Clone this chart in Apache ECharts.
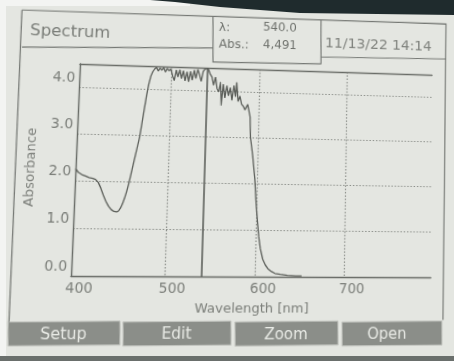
<!DOCTYPE html>
<html><head><meta charset="utf-8">
<script src="https://cdn.jsdelivr.net/npm/echarts@6/dist/echarts.min.js"></script>
<style>
html,body{margin:0;padding:0;background:#e6e8e3;overflow:hidden}
#wrap{position:absolute;left:0;top:0;width:454px;height:361px;overflow:hidden;background:#e6e8e3}
#c{width:534px;height:441px;position:absolute;left:-40px;top:-40px}
.deco{position:absolute;pointer-events:none}
</style></head><body>
<div id="wrap">
<div id="c"></div>
<div class="deco" style="left:0;top:0;width:6px;height:361px;background:#f3f4f2"></div>
<div class="deco" style="left:0;top:0;width:190px;height:6px;background:#f3f4f2"></div>
<div class="deco" style="left:0;top:0;width:454px;height:18px;background:#1f2b2d;clip-path:polygon(150px 0,454px 0,454px 15px,300px 13px,220px 7px,175px 2px)"></div>
<div class="deco" style="left:0;top:356px;width:454px;height:5px;background:#6a6f6c"></div>
</div>
<script>
// ---- data ----
const wavelengths = [
  400,403,407,411,415,419,422,425,428,431,
  434,437,440,443,446,448,450,452,454,456,
  458,460,462,464,466,468,470,472,474,476,
  478,480,482,484,486,488,490,492,494,496,
  498,500,502,504,506,508,510,512,514,516,
  518,520,522,524,526,528,530,532,534,536,
  538,540,542,544,546,548,550,552,554,556,
  557,559,561,563,565,567,569,571,573,574,
  576,578,580,582,584,587,590,591,594,597,
  599,601,603,605,608,611,614,618,622,628,
  636,645,652];
const absorbance = [
  2.25,2.18,2.13,2.10,2.07,2.05,2.03,1.97,1.85,1.70,
  1.57,1.47,1.40,1.36,1.35,1.37,1.43,1.52,1.64,1.78,
  1.95,2.15,2.35,2.55,2.75,2.95,3.25,3.55,3.85,4.10,
  4.28,4.38,4.44,4.47,4.40,4.46,4.42,4.47,4.38,4.46,
  4.41,4.45,4.30,4.20,4.43,4.28,4.44,4.25,4.42,4.20,
  4.40,4.18,4.41,4.22,4.44,4.26,4.46,4.34,4.20,4.42,
  4.47,4.49,4.46,4.36,4.30,4.12,4.30,4.05,3.98,4.20,
  3.68,4.15,3.85,4.12,3.90,4.08,3.80,4.13,3.88,4.20,
  3.78,3.90,3.72,3.68,3.60,3.72,3.45,3.00,2.60,2.10,
  1.60,1.20,0.85,0.60,0.37,0.25,0.17,0.11,0.07,0.05,
  0.03,0.02,0.02];
const xTickLabels = [400, 500, 600, 700];
const yTickLabels = [0, 1, 2, 3, 4];
const cursorWavelength = 540.0;
const cursorAbs = 4.491;
const titleText = 'Spectrum';
const timestamp = '11/13/22 14:14';
const buttons = ['Setup', 'Edit', 'Zoom', 'Open'];

// ---- photo perspective (homography) ----
function solve(A, b) {
  const n = b.length, M = A.map((r, i) => r.concat([b[i]]));
  for (let c = 0; c < n; c++) {
    let p = c;
    for (let r = c + 1; r < n; r++) if (Math.abs(M[r][c]) > Math.abs(M[p][c])) p = r;
    [M[c], M[p]] = [M[p], M[c]];
    for (let r = 0; r < n; r++) if (r !== c) {
      const f = M[r][c] / M[c][c];
      for (let k = c; k <= n; k++) M[r][k] -= f * M[c][k];
    }
  }
  return M.map((r, i) => r[n] / r[i]);
}
function homography(src, dst) {
  const A = [], b = [];
  for (let i = 0; i < 4; i++) {
    const [x, y] = src[i], [u, v] = dst[i];
    A.push([x, y, 1, 0, 0, 0, -x * u, -y * u]); b.push(u);
    A.push([0, 0, 0, x, y, 1, -x * v, -y * v]); b.push(v);
  }
  const h = solve(A, b);
  return [[h[0], h[1], h[2]], [h[3], h[4], h[5]], [h[6], h[7], 1]];
}
function inv3(m) {
  const [a, b, c] = m[0], [d, e, f] = m[1], [g, h, i] = m[2];
  const A = e*i - f*h, B = -(d*i - f*g), C = d*h - e*g;
  const D = -(b*i - c*h), E = a*i - c*g, F = -(a*h - b*g);
  const G = b*f - c*e, H = -(a*f - c*d), I = a*e - b*d;
  const det = a*A + b*B + c*C;
  return [[A/det, D/det, G/det], [B/det, E/det, H/det], [C/det, F/det, I/det]];
}
function apply(m, x, y) {
  const w = m[2][0]*x + m[2][1]*y + m[2][2];
  return [(m[0][0]*x + m[0][1]*y + m[0][2]) / w, (m[1][0]*x + m[1][1]*y + m[1][2]) / w];
}
const OFF = 40;
const GL = 76, GR = 431, GT = 69, GB = 276;
const X_MIN = 400, X_MAX = 800, Y_MAX = 4.5;
const ix = v => GL + (v - X_MIN) / (X_MAX - X_MIN) * (GR - GL);
const iy = a => GB - a / Y_MAX * (GB - GT);
const Hm = homography(
  [[ix(400), iy(4)], [ix(700), iy(4)], [ix(400), iy(0)], [ix(700), iy(0)]],
  [[79, 87], [346.7, 94.5], [71, 276], [344, 277]]);
const Hi = inv3(Hm);
const P = (x, y) => { const q = apply(Hi, x, y); return [q[0] + OFF, q[1] + OFF]; };
const el = document.getElementById('c');
el.style.transformOrigin = OFF + 'px ' + OFF + 'px';
el.style.transform = 'matrix3d(' + [Hm[0][0], Hm[1][0], 0, Hm[2][0], Hm[0][1], Hm[1][1], 0, Hm[2][1], 0, 0, 1, 0, Hm[0][2], Hm[1][2], 0, Hm[2][2]].join(',') + ')';

// ---- decorations of the instrument screen ----
const FONT = '"DejaVu Sans", Verdana, sans-serif';
const LINE = '#767975';
const TXT = '#7b7e79';
const graphic = [];
function line(pts, w, col) {
  graphic.push({type: 'polyline', z: 10, silent: true, shape: {points: pts.map(p => P(p[0], p[1]))},
    style: {stroke: col || LINE, lineWidth: w || 1.2, fill: null}});
}
function text(str, x, y, size, col, align, rot) {
  const [px, py] = P(x, y);
  graphic.push({type: 'text', z: 11, silent: true, x: px, y: py, rotation: rot || 0,
    style: {text: str, x: 0, y: 0, font: size + 'px ' + FONT, fill: col || TXT,
      textAlign: align || 'left', textVerticalAlign: 'middle'}});
}
line([[22, 10], [446, 24], [443, 320]]);
line([[22, 10], [9, 322]]);
line([[22, 47], [213, 48]]);
line([[213, 16], [213, 62], [321, 64]]);
line([[321, 20], [321, 64]]);
line([[321, 57], [446, 59]]);
text(titleText, 30, 30, 16, '#7a7d78');
text('λ:', 219, 27, 12, '#6e716c');
text(cursorWavelength.toFixed(1), 263, 27, 12, '#6e716c');
text('Abs.:', 219, 44, 12, '#6e716c');
text(cursorAbs.toFixed(3).replace('.', ','), 263, 44, 12, '#6e716c');
text(timestamp, 325, 43, 14.5, '#80837e');
text('Wavelength [nm]', 252, 308, 13, TXT, 'center');
text('Absorbance', 30, 167, 13, TXT, 'center', Math.PI / 2);
const btnBoxes = [[8, 120], [123, 231], [235, 338], [342, 442]];
const btnText = [63.5, 176.5, 286, 387];
buttons.forEach((b, i) => {
  const [x0, x1] = btnBoxes[i];
  graphic.push({type: 'polygon', z: 9, silent: true,
    shape: {points: [P(x0, 322), P(x1, 321), P(x1, 345), P(x0, 346)]},
    style: {fill: '#8b8e89', stroke: '#c3c5c0', lineWidth: 1}});
  text(b, btnText[i], 334, 15, '#e8eae5', 'center');
});

// ---- chart ----
const chart = echarts.init(el, null, {renderer: 'svg', width: 454 + 2 * OFF, height: 361 + 2 * OFF});
chart.setOption({
  animation: false,
  backgroundColor: '#e4e6e1',
  grid: {left: GL + OFF, right: 454 - GR + OFF, top: GT + OFF, bottom: 361 - GB + OFF},
  xAxis: [{
    type: 'value', min: X_MIN, max: X_MAX, interval: 100,
    axisLine: {show: true, lineStyle: {color: '#6a6d68', width: 1.4}},
    axisTick: {show: false},
    axisLabel: {formatter: v => xTickLabels.includes(v) ? String(v) : '', color: TXT,
      fontFamily: FONT, fontSize: 13.5, margin: 4, padding: [0, 0, 0, 16]},
    splitLine: {show: true, showMinLine: false, showMaxLine: false,
      lineStyle: {color: '#8c8f8a', width: 1.2, type: [1.5, 1.8]}}
  }, {
    type: 'value', position: 'top', min: X_MIN, max: X_MAX,
    axisLine: {show: true, lineStyle: {color: '#6a6d68', width: 1.4}},
    axisTick: {show: false}, axisLabel: {show: false}, splitLine: {show: false}
  }],
  yAxis: {
    type: 'value', min: 0, max: Y_MAX, interval: 1,
    axisLine: {show: true, lineStyle: {color: '#6a6d68', width: 1.4}},
    axisTick: {show: false},
    axisLabel: {formatter: v => yTickLabels.includes(v) ? v.toFixed(1) : '', color: TXT,
      fontFamily: FONT, fontSize: 13.5, margin: 4, verticalAlign: 'bottom', padding: [0, 0, 3, 0]},
    splitLine: {show: true, showMinLine: false, showMaxLine: false,
      lineStyle: {color: '#8c8f8a', width: 1.2, type: [1.5, 1.8]}}
  },
  series: [{
    type: 'line', xAxisIndex: 0,
    data: wavelengths.map((w, i) => [w, absorbance[i]]),
    symbol: 'none', showSymbol: false,
    lineStyle: {color: '#5d605b', width: 1.3},
    markLine: {silent: true, symbol: ['none', 'none'], label: {show: false},
      lineStyle: {color: '#575a55', width: 1.5, type: 'solid'},
      data: [{xAxis: cursorWavelength}]}
  }],
  graphic: graphic
});
</script>
</body></html>
